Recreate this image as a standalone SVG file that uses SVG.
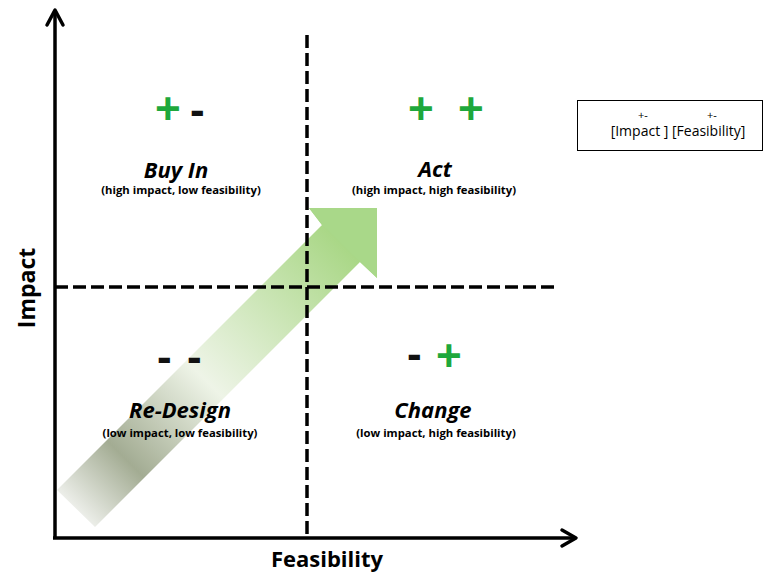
<svg xmlns="http://www.w3.org/2000/svg" width="769" height="573" viewBox="0 0 769 573">
<style>
.axis{stroke:#000;stroke-width:3.5;fill:none}
.head{stroke:#000;stroke-width:3.5;fill:none;stroke-linecap:round;stroke-linejoin:round}
.dash{stroke:#000;stroke-width:3.5;stroke-dasharray:13 5;fill:none}
.sign{font-family:"Liberation Sans",Arial,sans-serif;font-weight:bold;font-size:44px}
.plus{fill:#1ea83c}
.minus{fill:#111}
.title{font-family:"Open Sans","Liberation Sans",sans-serif;font-weight:bold;font-style:italic;font-size:22px;text-anchor:middle;fill:#000}
.sub{font-family:"Open Sans","Liberation Sans",sans-serif;font-weight:bold;font-size:11.3px;text-anchor:middle;fill:#000}
.axlabel{font-family:"Open Sans","Liberation Sans",sans-serif;font-weight:bold;font-size:22px;text-anchor:middle;fill:#000}
.leg{font-family:"Open Sans","Liberation Sans",sans-serif;font-size:14px;fill:#000;text-anchor:middle}
</style>
<defs>
<linearGradient id="shaftGrad" gradientUnits="userSpaceOnUse" x1="62" y1="520" x2="345" y2="237">
<stop offset="0" stop-color="#ffffff"/>
<stop offset="0.22" stop-color="#a3ac93"/>
<stop offset="0.5" stop-color="#eef4e7"/>
<stop offset="1" stop-color="#a7d683"/>
</linearGradient>
</defs>

<g id="big-arrow">
<polygon points="57,490 322,225 309,208 377,208 377,278 360,262 95,527" fill="url(#shaftGrad)"/>
<polygon points="322,225 309,208 377,208 377,278 360,262" fill="#a9d889"/>
</g>

<g id="connectors">
<line class="dash" x1="307" y1="35" x2="307" y2="538"/>
<line class="dash" x1="55" y1="287" x2="556" y2="287"/>
<line class="axis" x1="55" y1="538" x2="55" y2="11"/>
<polyline class="head" points="47,25 55,10 63,25"/>
<line class="axis" x1="53" y1="538" x2="574" y2="538"/>
<polyline class="head" points="562,530 576,538 562,546"/>
</g>

<g id="buy-in">
<text class="sign plus" x="155" y="124">+</text>
<text class="sign minus" x="190" y="125">-</text>
<text class="title" x="176" y="178">Buy In</text>
<text class="sub" x="181" y="194">(high impact, low feasibility)</text>
</g>

<g id="act">
<text class="sign plus" x="408" y="124">+</text>
<text class="sign plus" x="458" y="124">+</text>
<text class="title" x="435" y="177">Act</text>
<text class="sub" x="434" y="194">(high impact, high feasibility)</text>
</g>

<g id="re-design">
<text class="sign minus" x="157" y="372">-</text>
<text class="sign minus" x="187" y="372">-</text>
<text class="title" x="180" y="418">Re-Design</text>
<text class="sub" x="180" y="437">(low impact, low feasibility)</text>
</g>

<g id="change">
<text class="sign minus" x="407" y="369">-</text>
<text class="sign plus" x="436" y="371">+</text>
<text class="title" x="433" y="418">Change</text>
<text class="sub" x="436" y="437">(low impact, high feasibility)</text>
</g>

<g id="legend">
<rect x="577.5" y="100.5" width="185" height="50" fill="#fff" stroke="#000" stroke-width="1"/>
<text class="leg" x="643" y="119" style="font-size:11px">+-</text>
<text class="leg" x="712" y="119" style="font-size:11px">+-</text>
<text class="leg" x="678" y="136">[Impact ] [Feasibility]</text>
</g>

<g id="axis-labels">
<text class="axlabel" transform="translate(35,288) rotate(-90)" style="font-size:23px">Impact</text>
<text class="axlabel" x="327" y="567">Feasibility</text>
</g>
</svg>
